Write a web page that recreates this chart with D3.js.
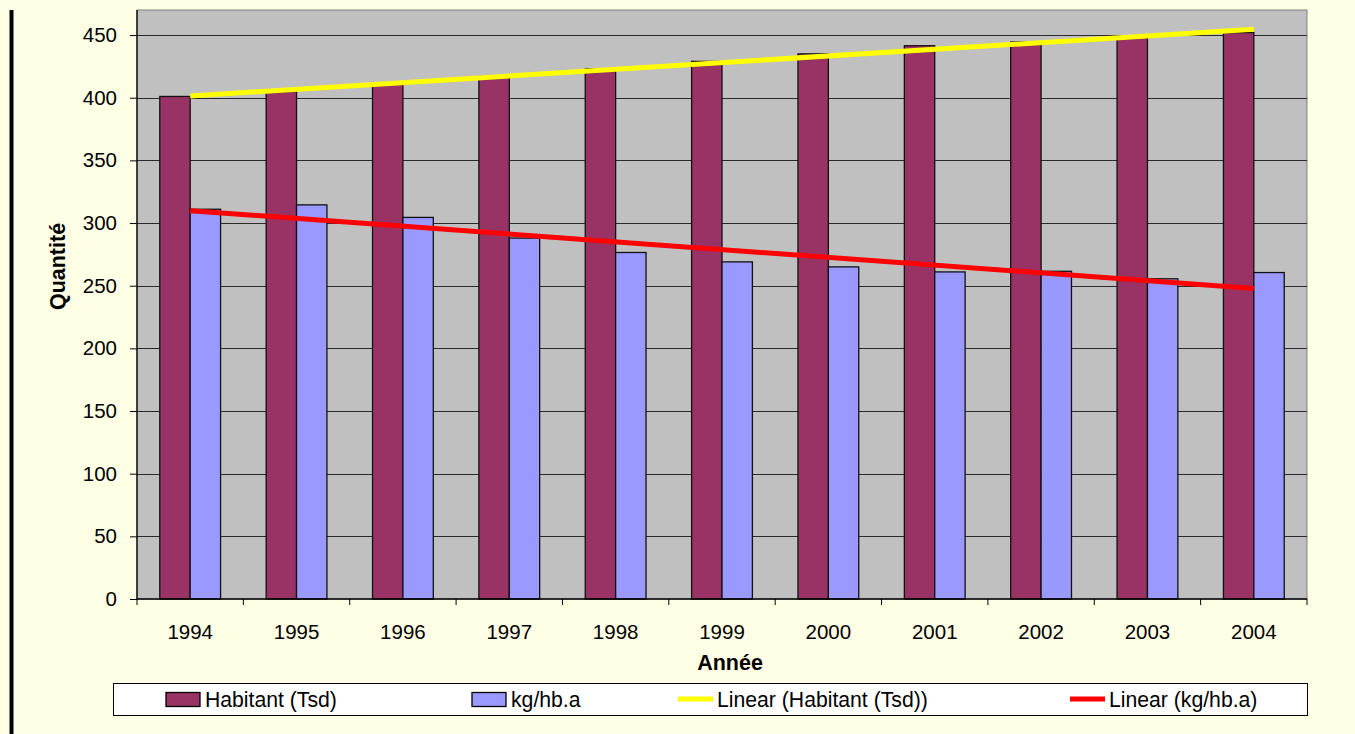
<!DOCTYPE html>
<html>
<head>
<meta charset="utf-8">
<script src="https://cdn.jsdelivr.net/npm/d3@7"></script>
<style>
  html, body { margin: 0; padding: 0; background: #FFFFE6; }
  svg { display: block; }
  text { font-family: "Liberation Sans", Arial, sans-serif; fill: #000; }
</style>
</head>
<body>
<svg id="chart" width="1355" height="734"></svg>
<script>
// ---- Data ----
const years = ["1994","1995","1996","1997","1998","1999","2000","2001","2002","2003","2004"];
const habitant = [401, 405, 412, 417, 423, 429, 435, 441.5, 444.5, 448, 452];
const kgPerHb = [311, 314.5, 304.5, 288, 276.5, 269, 265, 261, 261.5, 255.5, 260.5];
const yTicks = [0, 50, 100, 150, 200, 250, 300, 350, 400, 450];
const seriesNames = ["Habitant (Tsd)", "kg/hb.a", "Linear (Habitant (Tsd))", "Linear (kg/hb.a)"];

// ---- Layout ----
const W = 1355, H = 734;
const plot = { left: 137, right: 1307, top: 10, bottom: 599 };
const colors = { hab: "#993366", kg: "#9999FF", habTrend: "#FFFF00", kgTrend: "#FF0000", plotBg: "#C0C0C0" };

const svg = d3.select("#chart");

// left black bar
svg.append("rect").attr("x", 9.5).attr("y", 10).attr("width", 4).attr("height", H - 10).attr("fill", "#000");

const x = d3.scaleBand().domain(years).range([plot.left, plot.right]).padding(0);
const y = d3.scaleLinear().domain([0, 470]).range([plot.bottom, plot.top]);

// plot background
svg.append("rect")
  .attr("x", plot.left).attr("y", plot.top)
  .attr("width", plot.right - plot.left).attr("height", plot.bottom - plot.top)
  .attr("fill", colors.plotBg).attr("stroke", "#808080").attr("stroke-width", 1);

// gridlines
svg.append("g")
  .selectAll("line").data(yTicks.filter(d => d > 0)).join("line")
  .attr("x1", plot.left).attr("x2", plot.right)
  .attr("y1", d => Math.round(y(d)) + 0.5).attr("y2", d => Math.round(y(d)) + 0.5)
  .attr("stroke", "#2a2a2a").attr("stroke-width", 1.2);

// bars
const bw = x.bandwidth();
const barW = bw / 3.5;
const groupOff = (bw - 2 * barW) / 2;

svg.append("g").selectAll("rect").data(habitant).join("rect")
  .attr("x", (d, i) => x(years[i]) + groupOff)
  .attr("y", d => y(d))
  .attr("width", barW)
  .attr("height", d => plot.bottom - y(d))
  .attr("fill", colors.hab).attr("stroke", "#111").attr("stroke-width", 1.3);

svg.append("g").selectAll("rect").data(kgPerHb).join("rect")
  .attr("x", (d, i) => x(years[i]) + groupOff + barW)
  .attr("y", d => y(d))
  .attr("width", barW)
  .attr("height", d => plot.bottom - y(d))
  .attr("fill", colors.kg).attr("stroke", "#111").attr("stroke-width", 1.3);

// linear trendlines (least-squares fit on the data)
function linFit(vals) {
  const n = vals.length;
  const mx = (n - 1) / 2;
  const my = d3.mean(vals);
  let num = 0, den = 0;
  vals.forEach((v, i) => { num += (i - mx) * (v - my); den += (i - mx) * (i - mx); });
  const b = num / den, a = my - b * mx;
  return [a, a + b * (n - 1)];
}
function trend(vals, color) {
  const [v0, v1] = linFit(vals);
  const cx0 = x(years[0]) + bw / 2, cx1 = x(years[years.length - 1]) + bw / 2;
  svg.append("line")
    .attr("x1", cx0).attr("y1", y(v0)).attr("x2", cx1).attr("y2", y(v1))
    .attr("stroke", color).attr("stroke-width", 5);
}
trend(habitant, colors.habTrend);
trend(kgPerHb, colors.kgTrend);

// y axis
const yAxis = d3.axisLeft(y).tickValues(yTicks).tickSize(7).tickPadding(13).tickFormat(d3.format("d"));
const gy = svg.append("g").attr("transform", `translate(${plot.left},0)`).call(yAxis);
gy.select(".domain").attr("d", `M0,${plot.top}V${plot.bottom}`).attr("stroke", "#000").attr("stroke-width", 1.3);
gy.selectAll(".tick line").attr("stroke", "#000");
gy.selectAll(".tick text").attr("font-size", 20.5).attr("font-family", "Liberation Sans, Arial, sans-serif").attr("fill", "#000");

// x axis line and ticks at band boundaries
svg.append("line").attr("x1", plot.left).attr("x2", plot.right)
  .attr("y1", plot.bottom).attr("y2", plot.bottom).attr("stroke", "#000").attr("stroke-width", 1.3);
const bounds = years.map(d => x(d)).concat([plot.right]);
svg.append("g").selectAll("line").data(bounds).join("line")
  .attr("x1", d => d).attr("x2", d => d)
  .attr("y1", plot.bottom).attr("y2", plot.bottom + 6)
  .attr("stroke", "#000").attr("stroke-width", 1);
svg.append("g").selectAll("text").data(years).join("text")
  .attr("x", d => x(d) + bw / 2).attr("y", 638.5)
  .attr("text-anchor", "middle").attr("font-size", 20.5).text(d => d);

// axis titles
svg.append("text").attr("x", 730).attr("y", 670).attr("text-anchor", "middle")
  .attr("font-size", 21.5).attr("font-weight", "bold").text("Année");
svg.append("text").attr("transform", "translate(64.5,266.5) rotate(-90)").attr("text-anchor", "middle")
  .attr("font-size", 21.5).attr("font-weight", "bold").text("Quantité");

// legend
const leg = { x: 113, y: 683, w: 1194, h: 32 };
svg.append("rect").attr("x", leg.x + 0.5).attr("y", leg.y + 0.5).attr("width", leg.w).attr("height", leg.h)
  .attr("fill", "#fff").attr("stroke", "#000").attr("stroke-width", 1);
const legX = [166, 472, 678, 1070];
const legKinds = ["rect", "rect", "line", "line"];
const legColors = [colors.hab, colors.kg, colors.habTrend, colors.kgTrend];
seriesNames.forEach((name, i) => {
  const sx = legX[i];
  if (legKinds[i] === "rect") {
    svg.append("rect").attr("x", sx).attr("y", 692.5).attr("width", 34).attr("height", 14)
      .attr("fill", legColors[i]).attr("stroke", "#000").attr("stroke-width", 1.3);
  } else {
    svg.append("line").attr("x1", sx).attr("x2", sx + 35).attr("y1", 699).attr("y2", 699)
      .attr("stroke", legColors[i]).attr("stroke-width", 5);
  }
  svg.append("text").attr("x", sx + 39).attr("y", 707).attr("font-size", 21.2).text(name);
});
</script>
</body>
</html>
